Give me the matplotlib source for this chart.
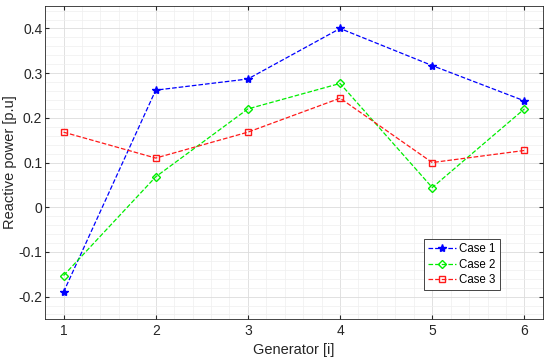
import matplotlib.pyplot as plt
from matplotlib.ticker import MultipleLocator

# ---------------- Daten ----------------
generator = [1, 2, 3, 4, 5, 6]
case1 = [-0.190, 0.262, 0.287, 0.400, 0.317, 0.238]
case2 = [-0.153, 0.068, 0.220, 0.277, 0.044, 0.220]
case3 = [0.168, 0.110, 0.168, 0.244, 0.100, 0.127]

plt.rcParams['font.family'] = ['Liberation Sans', 'DejaVu Sans']

fig = plt.figure(figsize=(5.5, 3.62), dpi=100)
ax = fig.add_axes([0.082, 0.119, 0.905, 0.864])

ax.plot(generator, case1, '--', color='#0000ff', marker='*', markersize=6,
        markerfacecolor='#0000ff', linewidth=0.9, label='Case 1')
ax.plot(generator, case2, '--', color='#00ee00', marker='D', markersize=4.5,
        markerfacecolor='none', linewidth=0.9, label='Case 2')
ax.plot(generator, case3, '--', color='#ff1a1a', marker='s', markersize=4.5,
        markerfacecolor='none', linewidth=0.9, label='Case 3')

ax.set_xlim(0.8, 6.2)
ax.set_ylim(-0.25, 0.45)
ax.set_xticks(generator)
ax.set_yticks([-0.2, -0.1, 0, 0.1, 0.2, 0.3, 0.4])
ax.set_yticklabels(['-0.2', '-0.1', '0', '0.1', '0.2', '0.3', '0.4'])
ax.xaxis.set_minor_locator(MultipleLocator(0.2))
ax.yaxis.set_minor_locator(MultipleLocator(0.02))

ax.grid(True, which='major', color='#dcdcdc', linewidth=0.6)
ax.grid(True, which='minor', color='#efefef', linewidth=0.5)
ax.set_axisbelow(True)

ax.tick_params(which='both', direction='in', top=True, right=True,
               labelsize=10, colors='#262626', length=3)
ax.tick_params(which='minor', length=0)
ax.tick_params(axis='y', pad=2)
for s in ax.spines.values():
    s.set_color('#262626')
    s.set_linewidth(0.6)

ax.set_xlabel('Generator [i]', fontsize=10.5, color='#262626')
ax.set_ylabel('Reactive power [p.u]', fontsize=10.5, color='#262626', labelpad=1)

leg = ax.legend(loc='lower right', bbox_to_anchor=(0.913, 0.092), fontsize=8.3,
                fancybox=False, framealpha=1, edgecolor='#262626',
                handlelength=2.4, borderpad=0.35, labelspacing=0.3,
                handletextpad=0.3, borderaxespad=0)
leg.get_frame().set_linewidth(0.6)

fig.savefig('out.png', dpi=100)
